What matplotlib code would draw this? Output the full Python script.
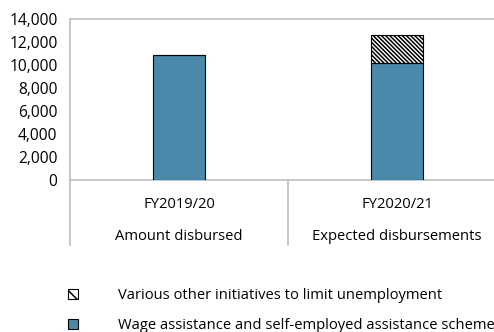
import matplotlib
matplotlib.use("Agg")
import matplotlib.pyplot as plt
from matplotlib.patches import Patch
from matplotlib.lines import Line2D
from matplotlib.ticker import FuncFormatter
import matplotlib.transforms as mtransforms

plt.rcParams['font.family'] = ['Open Sans', 'DejaVu Sans']
plt.rcParams['hatch.linewidth'] = 1.1

# Data
periods = ["FY2019/20", "FY2020/21"]
groups = ["Amount disbursed", "Expected disbursements"]
wage_assistance = [10850, 10150]
other_initiatives = [0, 2450]
series_labels = ["Various other initiatives to limit unemployment",
                 "Wage assistance and self-employed assistance schemes"]

blue = "#4a89aa"
grey = "#bfbfbf"
fs = 10.6

fig = plt.figure(figsize=(4.94, 3.32), dpi=100)
W, H = 494, 332
left, right, top, bottom = 70, 506, 19, 180
ax = fig.add_axes([left / W, 1 - bottom / H, (right - left) / W, (bottom - top) / H])

x = [0, 1]
bw = 0.235
hatch = "\\" * 8
ax.bar(x, wage_assistance, width=bw, color=blue, edgecolor="black", linewidth=0.8, zorder=3)
ax.bar(x, other_initiatives, width=bw, bottom=wage_assistance, color="white",
       edgecolor="black", hatch=hatch, linewidth=0.8, zorder=3)

ax.set_xlim(-0.5, 1.5)
ax.set_ylim(0, 14000)
ax.set_yticks(range(0, 14001, 2000))
ax.yaxis.set_major_formatter(FuncFormatter(lambda v, p: f"{int(v):,}"))
ax.tick_params(axis="y", length=0, pad=9, labelsize=11.2, colors="black")
ax.set_xticks([])

for side in ["left", "top", "bottom"]:
    ax.spines[side].set_color(grey)
    ax.spines[side].set_linewidth(1.2)
ax.spines["right"].set_visible(False)

# Category labels and group separators below the axis
trans = mtransforms.blended_transform_factory(ax.transData, ax.transAxes)
sep_bottom = -(245 - bottom) / (bottom - top)
for xi, per, grp in zip(x, periods, groups):
    ax.text(xi, -(204 - bottom) / (bottom - top), per, transform=trans,
            ha="center", va="center", fontsize=fs)
    ax.text(xi, -(237 - bottom) / (bottom - top), grp, transform=trans,
            ha="center", va="center", fontsize=fs)
for xs in [-0.5, 0.5, 1.5]:
    ax.add_line(Line2D([xs, xs], [0, sep_bottom], transform=trans, color=grey,
                       linewidth=1.2, clip_on=False))

handles = [Patch(facecolor="white", edgecolor="black", hatch="\\\\\\", linewidth=0.8),
           Patch(facecolor=blue, edgecolor="black", linewidth=0.8)]
fig.legend(handles, series_labels, loc="upper left", bbox_to_anchor=(68 / W, 1 - 288 / H),
           frameon=False, fontsize=fs, handlelength=0.7, handleheight=0.7,
           handletextpad=2.7, labelspacing=1.05, borderaxespad=0, borderpad=0)

fig.savefig("out.png", dpi=100)
